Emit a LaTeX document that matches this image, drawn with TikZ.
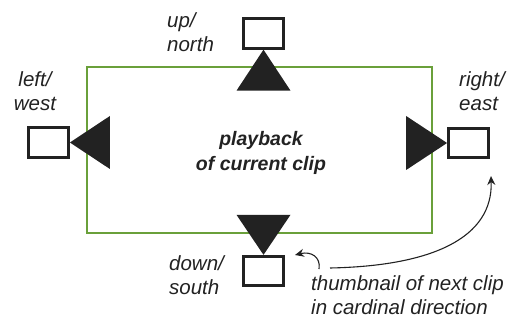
\documentclass[tikz,border=0pt]{standalone}
\usepackage{fontspec}
\setmainfont{Liberation Sans}
\usetikzlibrary{arrows.meta}
\definecolor{framegreen}{HTML}{6AA03A}
\definecolor{ink}{HTML}{222222}
\begin{document}
\begin{tikzpicture}[x=1pt,y=-1pt,
  frame/.style={draw=framegreen,line width=2.6pt},
  thumb/.style={draw=ink,line width=2.8pt,fill=white,minimum width=40pt,minimum height=29.5pt,inner sep=0pt},
  pointer/.style={fill=ink},
  lbl/.style={text=ink,font=\fontsize{20.5}{24.5}\selectfont\itshape,inner sep=0pt},
  title/.style={text=ink,font=\fontsize{19.5}{25}\selectfont\bfseries\itshape,inner sep=0pt,align=center},
  arr/.style={draw=ink,line width=1.1pt,-{Stealth[length=9pt,width=8pt]}}]
\useasboundingbox (0,0) rectangle (518,320);

% playback area
\draw[frame] (87,67) rectangle (432,233);
\node[title] (play) at (261,153) {playback\\of current clip};

% neighbouring thumbnails
\node[thumb] (up)    at (263.5,33.5) {};
\node[thumb] (left)  at (48.5,142.5) {};
\node[thumb] (right) at (468.5,143)  {};
\node[thumb] (down)  at (263.5,271)  {};

% direction markers, apex touching each thumbnail
\fill[pointer] (up.south)   -- ++(-27,41) -- ++(54,0) -- cycle;
\fill[pointer] (left.east)  -- ++(40,-26.5) -- ++(0,53) -- cycle;
\fill[pointer] (right.west) -- ++(-41,-27) -- ++(0,54) -- cycle;
\fill[pointer] (down.north) -- ++(-27,-40) -- ++(54,0) -- cycle;

% direction labels
\node[lbl,align=left,anchor=west]  (lup)    at (167,32)  {up/\\north};
\node[lbl,align=center]            (lleft)  at (35,91)   {left/\\west};
\node[lbl,align=left,anchor=west]  (lright) at (459,91)  {right/\\east};
\node[lbl,align=left,anchor=west]  (ldown)  at (169,275) {down/\\south};
\node[lbl,align=left,anchor=west]  (note)   at (311,295) {thumbnail of next clip\\in cardinal direction};

% callout arrows from the note
\coordinate (longstart) at (330,268);
\coordinate (longend)   at (491,176);
\coordinate (hookstart) at (319,269);
\coordinate (hookend)   at (295,255);
\draw[arr] (longstart) .. controls (432,266) and (493,238) .. (longend);
\draw[arr] (hookstart) .. controls (321,257) and (311,251) .. (hookend);
\end{tikzpicture}
\end{document}
